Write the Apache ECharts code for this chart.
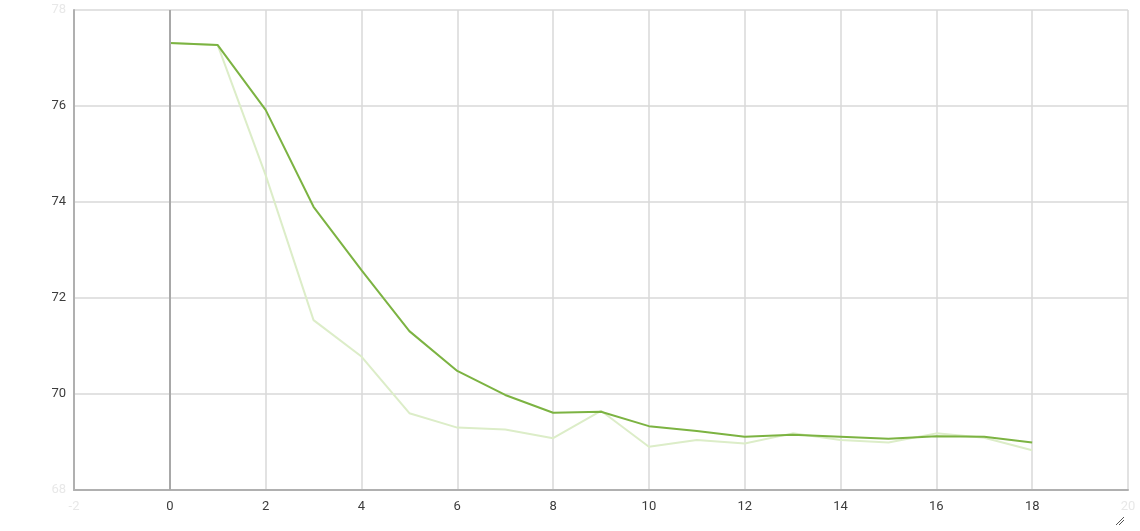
<!DOCTYPE html>
<html>
<head>
<meta charset="utf-8">
<script src="https://cdn.jsdelivr.net/npm/echarts@6/dist/echarts.min.js"></script>
<style>
html,body{margin:0;padding:0;background:#fff;}
#chart{width:1140px;height:531px;}
</style>
</head>
<body>
<div id="chart"></div>
<script>
const steps = [0,1,2,3,4,5,6,7,8,9,10,11,12,13,14,15,16,17,18];
const rawValues = [77.31,77.27,74.56,71.54,70.78,69.60,69.30,69.26,69.08,69.65,68.90,69.04,68.97,69.18,69.04,68.99,69.18,69.09,68.83];
const smoothedValues = [77.31,77.27,75.92,73.90,72.58,71.31,70.48,69.98,69.61,69.63,69.33,69.23,69.11,69.15,69.11,69.07,69.12,69.11,68.99];
const xTicks = [-2,0,2,4,6,8,10,12,14,16,18,20];
const yTicks = [68,70,72,74,76,78];

const chart = echarts.init(document.getElementById('chart'), null, {renderer:'canvas'});
const fade = (v, edges) => edges.includes(v) ? '{f|' + v + '}' : String(v);
chart.setOption({
  animation:false,
  backgroundColor:'#fff',
  grid:{left:74,right:12,top:10,bottom:41},
  xAxis:{
    type:'value', min:xTicks[0], max:xTicks[xTicks.length-1], interval:2,
    axisLine:{show:true,onZero:false,lineStyle:{color:'#b0b0b0',width:2}},
    axisTick:{show:false},
    splitLine:{show:true,lineStyle:{color:'#d8d8d8',width:1.5}},
    axisLabel:{margin:10,color:'#3c3c3c',fontSize:13,fontFamily:'Roboto',
      formatter:v=>fade(v,[xTicks[0],xTicks[xTicks.length-1]]),
      rich:{f:{color:'#e8e8e8',fontSize:13,fontFamily:'Roboto'}}}
  },
  yAxis:{
    type:'value', min:yTicks[0], max:yTicks[yTicks.length-1], interval:2,
    axisLine:{show:true,onZero:false,lineStyle:{color:'#b0b0b0',width:2}},
    axisTick:{show:false},
    splitLine:{show:true,lineStyle:{color:'#d8d8d8',width:1.5}},
    axisLabel:{margin:8,color:'#3c3c3c',fontSize:13,fontFamily:'Roboto',
      formatter:v=>fade(v,[yTicks[0],yTicks[yTicks.length-1]]),
      rich:{f:{color:'#e8e8e8',fontSize:13,fontFamily:'Roboto'}}}
  },
  series:[
    {type:'line',name:'raw',data:steps.map((s,i)=>[s,rawValues[i]]),showSymbol:false,
     lineStyle:{color:'#dcedc8',width:2},itemStyle:{color:'#dcedc8'},z:2,
     markLine:{silent:true,symbol:'none',label:{show:false},
       lineStyle:{color:'#a8a8a8',width:2,type:'solid'},data:[{xAxis:0}]}},
    {type:'line',name:'smoothed',data:steps.map((s,i)=>[s,smoothedValues[i]]),showSymbol:false,
     lineStyle:{color:'#7cb342',width:2},itemStyle:{color:'#7cb342'},z:3}
  ],
  graphic:[
    {type:'line',shape:{x1:1116,y1:525,x2:1124,y2:517},style:{stroke:'#555',lineWidth:1}},
    {type:'line',shape:{x1:1119,y1:525,x2:1124,y2:520},style:{stroke:'#555',lineWidth:1}}
  ]
});
</script>
</body>
</html>
